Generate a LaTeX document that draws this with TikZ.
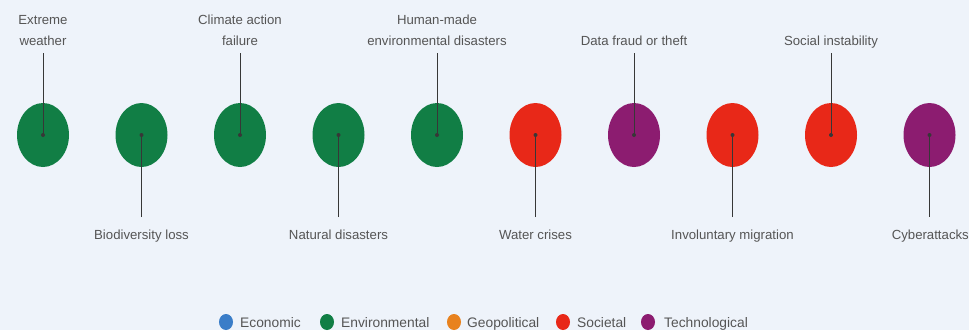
\documentclass[tikz,border=0pt]{standalone}
\usepackage{fontspec}
\setmainfont{Liberation Sans}
\usetikzlibrary{shapes.geometric}
\definecolor{bgc}{RGB}{238,243,250}
\definecolor{envc}{RGB}{17,126,69}
\definecolor{socc}{RGB}{232,40,24}
\definecolor{tecc}{RGB}{140,28,112}
\definecolor{ecoc}{RGB}{58,125,200}
\definecolor{geoc}{RGB}{232,130,30}
\definecolor{txtc}{RGB}{85,85,85}
\definecolor{linec}{RGB}{55,55,55}
\tikzset{
  risk/.style={ellipse, minimum width=52pt, minimum height=64pt, inner sep=0pt, draw=none},
  lab/.style={font=\fontsize{13.2}{21.5}\selectfont, text=txtc, align=center, inner sep=0pt},
  toplab/.style={lab, anchor=south, text depth=3pt},
  botlab/.style={lab, anchor=north, text height=10pt, text depth=3pt},
  conn/.style={draw=linec, line width=0.9pt},
  cdot/.style={fill=linec},
  legdot/.style={ellipse, minimum width=14pt, minimum height=16pt, inner sep=0pt},
  legtxt/.style={font=\fontsize{13.8}{16}\selectfont, text=txtc, anchor=base west, inner sep=0pt}
}
\begin{document}
\begin{tikzpicture}[x=1pt,y=-1pt]
\fill[bgc] (0,0) rectangle (969,330);
\useasboundingbox (0,0) rectangle (969,330);
% circles
\node[risk, fill=envc] (c1) at (43,135) {};
\node[risk, fill=envc] (c2) at (141.5,135) {};
\node[risk, fill=envc] (c3) at (240,135) {};
\node[risk, fill=envc] (c4) at (338.5,135) {};
\node[risk, fill=envc] (c5) at (437,135) {};
\node[risk, fill=socc] (c6) at (535.5,135) {};
\node[risk, fill=tecc] (c7) at (634,135) {};
\node[risk, fill=socc] (c8) at (732.5,135) {};
\node[risk, fill=socc] (c9) at (831,135) {};
\node[risk, fill=tecc] (c10) at (929.5,135) {};
% top labels
\node[toplab] (t1) at (43,49) {Extreme\\weather};
\node[toplab] (t3) at (240,49) {Climate action\\failure};
\node[toplab] (t5) at (437,49) {Human-made\\environmental disasters};
\node[toplab] (t7) at (634,49) {Data fraud or theft};
\node[toplab] (t9) at (831,49) {Social instability};
% bottom labels
\node[botlab] (b2) at (141.5,229) {Biodiversity loss};
\node[botlab] (b4) at (338.5,229) {Natural disasters};
\node[botlab] (b6) at (535.5,229) {Water crises};
\node[botlab] (b8) at (732.5,229) {Involuntary migration};
\node[botlab, anchor=north east] (b10) at (969,229) {Cyberattacks};
% connectors
\foreach \t/\c in {t1/c1,t3/c3,t5/c5,t7/c7,t9/c9}{
  \draw[conn, shorten <=4pt] (\t.south) -- (\c.center);
  \fill[cdot] (\c.center) circle (2pt);
}
\foreach \b/\c in {b2/c2,b4/c4,b6/c6,b8/c8}{
  \draw[conn, shorten <=12pt] (\b.north) -- (\c.center);
  \fill[cdot] (\c.center) circle (2pt);
}
\draw[conn] (c10.center) -- (c10.center |- 0,217);
\fill[cdot] (c10.center) circle (2pt);
% legend
\node[legdot, fill=ecoc] (l1) at (226,322) {};
\node[legtxt] (lt1) at (240,327) {Economic};
\node[legdot, fill=envc] (l2) at (327,322) {};
\node[legtxt] (lt2) at (341,327) {Environmental};
\node[legdot, fill=geoc] (l3) at (454,322) {};
\node[legtxt] (lt3) at (467,327) {Geopolitical};
\node[legdot, fill=socc] (l4) at (563,322) {};
\node[legtxt] (lt4) at (577,327) {Societal};
\node[legdot, fill=tecc] (l5) at (648,322) {};
\node[legtxt] (lt5) at (664,327) {Technological};
\end{tikzpicture}
\end{document}
